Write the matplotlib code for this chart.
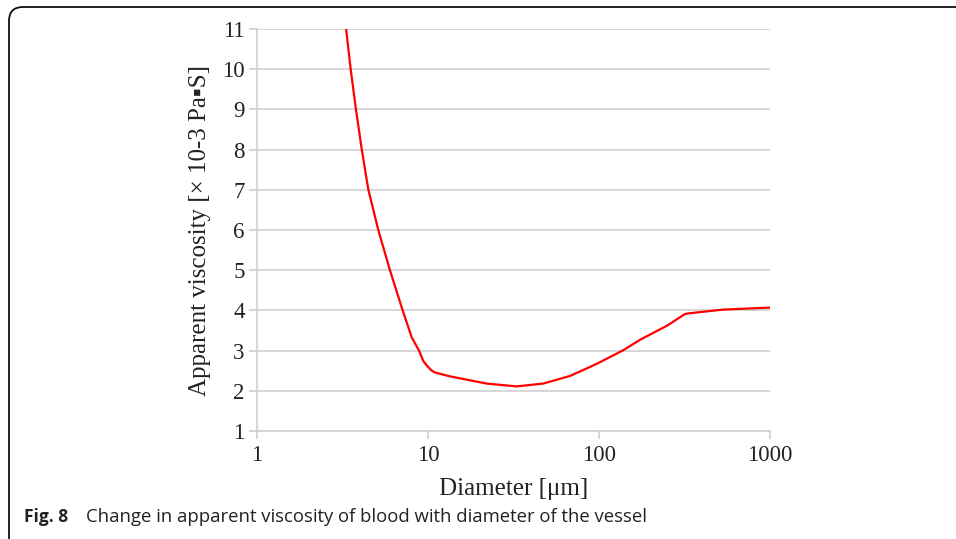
import matplotlib.pyplot as plt
from matplotlib.patches import FancyBboxPatch
from matplotlib.ticker import FixedLocator, NullLocator

# Data
diameter = [3.32, 3.53, 3.79, 4.10, 4.48, 5.12, 5.99, 7.11, 8.03, 8.86, 9.39,
            9.83, 10.4, 10.9, 13.4, 15.4, 22.0, 33.0, 47.2, 67.7, 97.0, 138.7,
            174, 250, 318, 340, 533, 1000]
viscosity = [11.0, 10.0, 9.0, 8.0, 7.0, 6.0, 5.0, 4.0, 3.33, 3.0, 2.74,
             2.63, 2.52, 2.46, 2.36, 2.31, 2.18, 2.11, 2.18, 2.37, 2.67, 3.01,
             3.27, 3.62, 3.91, 3.93, 4.02, 4.07]

x_ticks = [1, 10, 100, 1000]
x_tick_labels = ["1", "10", "100", "1000"]
y_ticks = list(range(1, 12))

W, H = 956, 539
fig = plt.figure(figsize=(W / 100, H / 100), dpi=100)
ax = fig.add_axes([257 / W, 1 - 431 / H, (770 - 257) / W, (431 - 29) / H])

ax.plot(diameter, viscosity, color="#ff0000", linewidth=1.6, zorder=3,
        solid_joinstyle="round")

ax.set_xscale("log")
ax.set_xlim(1, 1000)
ax.set_ylim(1, 11)
ax.xaxis.set_major_locator(FixedLocator(x_ticks))
ax.xaxis.set_minor_locator(NullLocator())
ax.set_xticklabels(x_tick_labels)
ax.set_yticks(y_ticks)

grid_col = "#d0d0d0"
ax.grid(axis="y", color=grid_col, linewidth=1.2)
ax.set_axisbelow(True)
for side in ["top", "right"]:
    ax.spines[side].set_visible(False)
for side in ["left", "bottom"]:
    ax.spines[side].set_color(grid_col)
    ax.spines[side].set_linewidth(1.2)
ax.tick_params(axis="both", colors=grid_col, length=6, width=1.2,
               labelcolor="#222222", labelsize=16.5)
ax.tick_params(axis="y", pad=3)
ax.tick_params(axis="x", pad=4)
for lab in ax.get_xticklabels() + ax.get_yticklabels():
    lab.set_family("Liberation Serif")

ax.set_xlabel("Diameter [μm]", family="Liberation Serif", fontsize=18,
              color="#222222", labelpad=9)
ax.set_ylabel("Apparent viscosity [× 10-3 Pa▪S]", family=["Liberation Serif", "DejaVu Sans"],
              fontsize=18, color="#222222", labelpad=8)

# rounded frame around the figure panel
frame = FancyBboxPatch((9, -30), 1100, 532 + 30, boxstyle="round,pad=0,rounding_size=14",
                       transform=None, fill=False, edgecolor="#111111", linewidth=1.3)
fig.patches.append(frame)

fig.text(24 / W, 1 - 517 / H, "Fig. 8", family="Open Sans", fontweight="bold",
         fontsize=12.5, va="center", ha="left", color="#222222")
fig.text(86 / W, 1 - 517 / H, "Change in apparent viscosity of blood with diameter of the vessel",
         family="Open Sans", fontsize=13.3, va="center", ha="left", color="#222222")

fig.savefig("out.png", dpi=100)
